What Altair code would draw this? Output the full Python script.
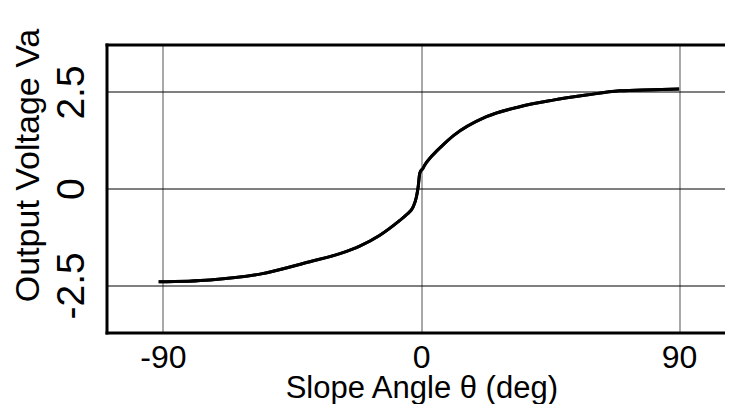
import altair as alt
import pandas as pd

# Values
theta_deg = [-91.5, -73.6, -56.2, -38.8, -28.3, -21.4, -14.5, -7.4, -5.0, -2.8, -1.6, -1.0,
             -0.45, 0.7, 1.3, 3.6, 5.4, 7.5, 11.3, 22.8, 34.4, 46.0, 57.6, 69.2, 80.9, 90.0]
voltage = [-2.41, -2.36, -2.21, -1.89, -1.68, -1.485, -1.21, -0.82, -0.67, -0.48, -0.21, 0.05,
           0.40, 0.53, 0.61, 0.83, 0.97, 1.12, 1.37, 1.86, 2.12, 2.29, 2.42, 2.53, 2.56, 2.58]
x_ticks = [-90, 0, 90]
y_ticks = [-2.5, 0, 2.5]

df = pd.DataFrame({"theta": theta_deg, "va": voltage})

FONT = "Liberation Sans"
x_scale = alt.Scale(domain=[-109.7, 112.8], nice=False, zero=False)
y_scale = alt.Scale(domain=[-3.72, 3.728], nice=False, zero=False)

base = alt.Chart(df).mark_line(color="black", strokeWidth=3, interpolate="monotone")

main = base.encode(
    x=alt.X(
        "theta:Q", scale=x_scale,
        axis=alt.Axis(
            values=x_ticks, labelExpr="toString(datum.value)",
            title="Slope Angle θ (deg)",
            grid=True, gridColor="#7a7a7a", gridWidth=1.3,
            ticks=False, tickSize=0,
            domain=True, domainColor="black", domainWidth=3, domainCap="square",
            labelFont=FONT, labelFontSize=32, labelColor="black",
            labelBaseline="alphabetic", labelPadding=34.5, labelFlush=False,
            titleFont=FONT, titleFontSize=31, titleFontWeight="normal", titleColor="black",
            titleX=314.8, titleY=64.5, titleBaseline="alphabetic", titleAlign="center",
        ),
    ),
    y=alt.Y(
        "va:Q", scale=y_scale,
        axis=alt.Axis(
            values=y_ticks, labelExpr="toString(datum.value)",
            title="Output Voltage Va",
            grid=True, gridColor="black", gridWidth=1,
            ticks=False, tickSize=0,
            domain=True, domainColor="black", domainWidth=3, domainCap="square",
            labelFont=FONT, labelFontSize=39, labelColor="black",
            labelAngle=270, labelAlign="center", labelBaseline="alphabetic",
            labelPadding=23.5, labelFlush=False,
            titleFont=FONT, titleFontSize=34, titleFontWeight="normal", titleColor="black",
            titleAngle=270, titleX=-68.5, titleY=120.5,
            titleBaseline="alphabetic", titleAlign="center",
        ),
    ),
)

top_border = base.encode(
    x=alt.X(
        "theta:Q", scale=x_scale,
        axis=alt.Axis(
            orient="top", labels=False, ticks=False, grid=False, title=None,
            domain=True, domainColor="black", domainWidth=3, domainCap="square",
        ),
    ),
    y=alt.Y("va:Q", scale=y_scale, axis=None),
)

chart = alt.layer(main, top_border).resolve_axis(
    x="independent", y="independent"
).properties(
    width=638,
    height=288,
    background="white",
    autosize=alt.AutoSizeParams(type="none"),
    padding={"left": 98.5, "top": 36.5, "right": -20, "bottom": 71},
).configure_view(stroke=None, fill="white")

chart.save("out.html", embed_options={"renderer": "svg", "actions": False})
